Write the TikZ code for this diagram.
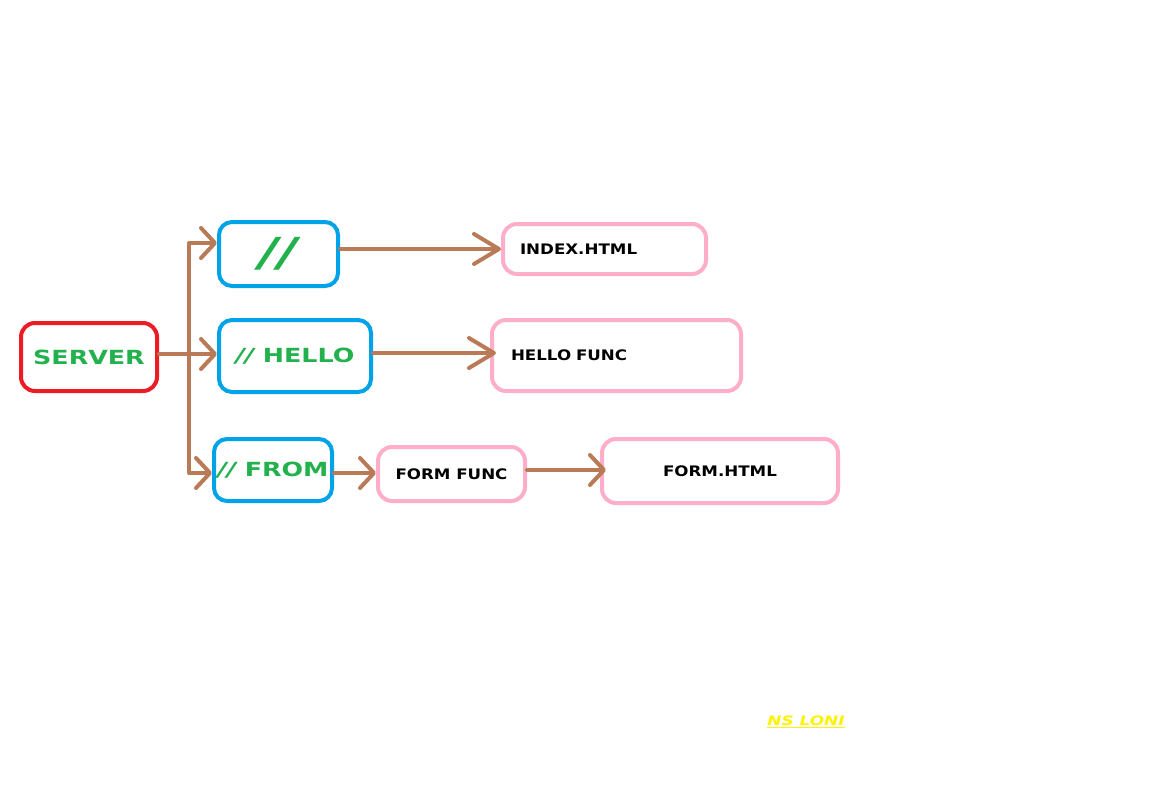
\documentclass[tikz,border=0pt]{standalone}
\usepackage{fontspec}
\newfontfamily\techfont[FakeStretch=1.3]{DejaVu Sans}
\newfontfamily\pagefont[FakeStretch=1.15]{DejaVu Sans}
\usetikzlibrary{arrows.meta}
\definecolor{paintred}{HTML}{ED1C24}
\definecolor{paintblue}{HTML}{00A2E8}
\definecolor{paintpink}{HTML}{FFAEC9}
\definecolor{paintgreen}{HTML}{22B14C}
\definecolor{paintbrown}{HTML}{B97A57}
\definecolor{paintyellow}{HTML}{FFF200}
\begin{document}
\begin{tikzpicture}[x=1pt, y=-1pt, every path/.style={line width=4pt},
	serverbox/.style={draw=paintred, rounded corners=14pt, text=paintgreen, font=\techfont\bfseries\fontsize{19.5}{19.5}\selectfont},
	routebox/.style={draw=paintblue, rounded corners=13pt, text=paintgreen, font=\techfont\bfseries\fontsize{19.5}{19.5}\selectfont},
	pagebox/.style={draw=paintpink, rounded corners=14pt, text=black, font=\pagefont\bfseries\fontsize{14.5}{14.5}\selectfont},
	shortlink/.style={draw=paintbrown, line cap=round, -{Straight Barb[length=14pt,width=30pt,round]}},
	longlink/.style={draw=paintbrown, line cap=round, -{Straight Barb[length=25pt,width=30pt,round]}}]
	\useasboundingbox (0,0) rectangle (1152,798);
	% boxes
	\node[serverbox, minimum width=136pt, minimum height=68pt] (server) at (89,357) {SERVER};
	\node[routebox, minimum width=119pt, minimum height=64pt] (root) at (278.5,254) {\fontsize{40}{40}\selectfont\itshape //};
	\node[routebox, minimum width=152pt, minimum height=72pt] (hello) at (295,356) {{\itshape //} HELLO};
	\node[routebox, minimum width=118pt, minimum height=62pt] (from) at (273,470) {{\itshape //} FROM};
	\node[pagebox, minimum width=203pt, minimum height=50pt, text width=169pt, align=left] (index) at (604.5,249) {INDEX.HTML};
	\node[pagebox, minimum width=249pt, minimum height=71pt, text width=211pt, align=left] (hellofunc) at (616.5,355.5) {HELLO FUNC};
	\node[pagebox, minimum width=147pt, minimum height=54pt] (formfunc) at (451.5,474) {FORM FUNC};
	\node[pagebox, minimum width=236pt, minimum height=64pt] (formhtml) at (720,471) {FORM.HTML};
	\node[text=paintyellow, font=\techfont\bfseries\itshape\fontsize{13}{13}\selectfont] (sign) at (806,722) {\underline{NS LONI}};
	% connectors
	\coordinate (top) at (189,243);
	\coordinate (bottom) at (189,473);
	\draw[paintbrown] (top) -- (bottom);
	\draw[shortlink] (server.east |- 0,354) -- (hello.west |- 0,354);
	\draw[shortlink] (top) -- (root.west |- top);
	\draw[shortlink] (bottom) -- (from.west |- bottom);
	\draw[longlink] (root.east |- 0,249) -- (index.west |- 0,249);
	\draw[longlink] (hello.east |- 0,353) -- ([xshift=6pt]hellofunc.west |- 0,353);
	\draw[shortlink] (from.east |- 0,473) -- (formfunc.west |- 0,473);
	\draw[shortlink] (formfunc.east |- 0,470) -- ([xshift=6pt]formhtml.west |- 0,470);
\end{tikzpicture}
\end{document}
